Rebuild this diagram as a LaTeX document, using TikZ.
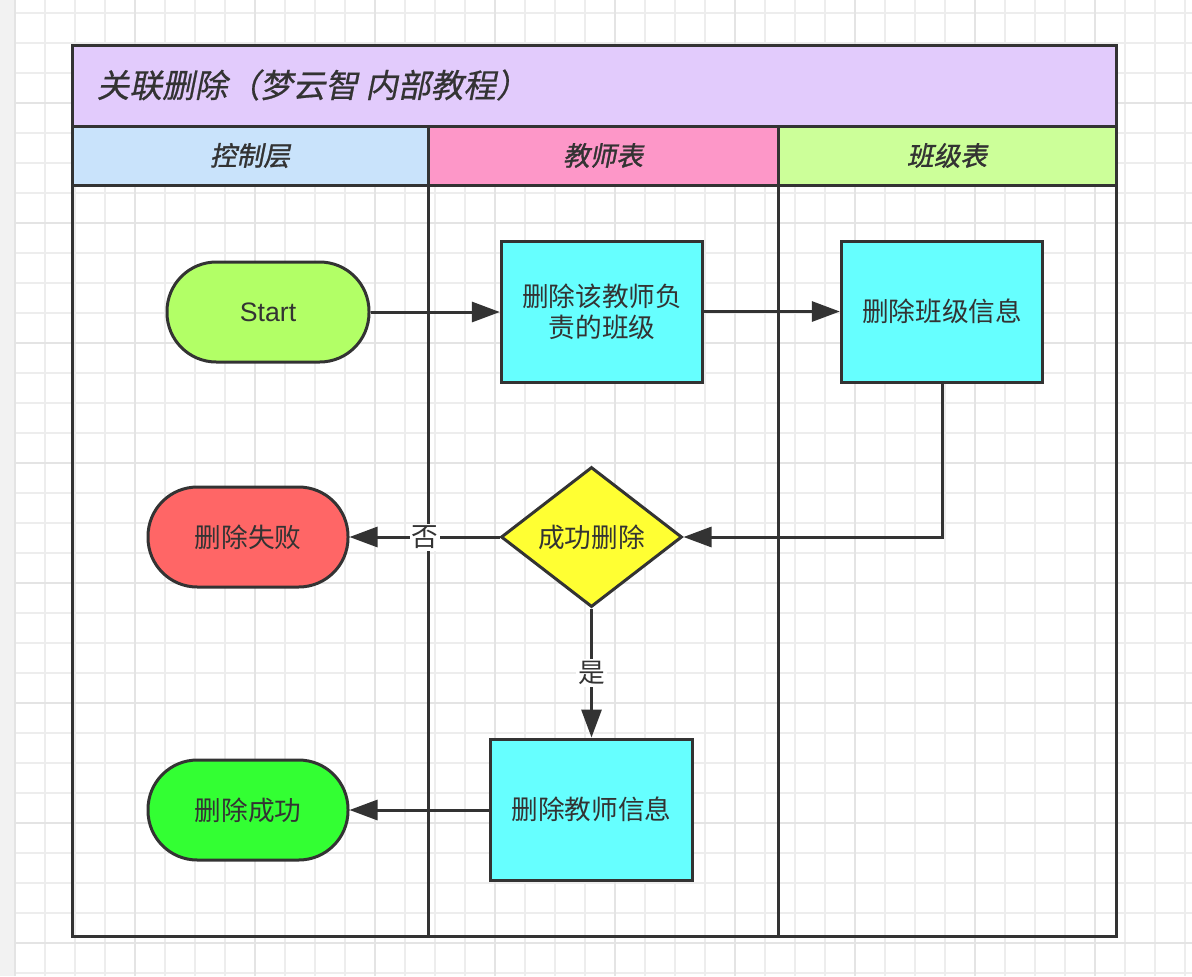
\documentclass[tikz,border=0pt]{standalone}
\usepackage{fontspec}
\setmainfont{Liberation Sans}
\newfontfamily\cjk{Noto Sans CJK SC}
\newfontfamily\cjktitle[FakeSlant=0.2,FakeBold=0.6]{Noto Sans CJK SC}
\newfontfamily\cjkhead[FakeSlant=0.2,FakeBold=1.2]{Noto Sans CJK SC}
\usetikzlibrary{arrows.meta,shapes.geometric}

\definecolor{ink}{HTML}{333333}
\definecolor{gridminor}{HTML}{EDEDED}
\definecolor{gridmajor}{HTML}{E4E4E4}
\definecolor{sidebar}{HTML}{F2F2F2}
\definecolor{titlefill}{HTML}{E2CBFC}
\definecolor{ctrlfill}{HTML}{C9E3FB}
\definecolor{teachfill}{HTML}{FD97C8}
\definecolor{classfill}{HTML}{CCFF99}
\definecolor{startfill}{HTML}{B2FF66}
\definecolor{procfill}{HTML}{66FFFF}
\definecolor{decfill}{HTML}{FFFF33}
\definecolor{failfill}{HTML}{FF6666}
\definecolor{okfill}{HTML}{33FF33}

\tikzset{
  border/.style={draw=ink, line width=2.25pt},
  nodetext/.style={text=ink, font=\cjk\fontsize{20}{22}\selectfont},
  terminal/.style={border, nodetext, rectangle, rounded corners=37pt,
    minimum width=150pt, minimum height=75pt, inner sep=0pt},
  procbox/.style={border, nodetext, rectangle, fill=procfill, align=center,
    minimum width=151pt, minimum height=105.75pt, inner sep=0pt},
  decision/.style={border, nodetext, diamond, fill=decfill, aspect=1.3,
    minimum width=135.75pt, minimum height=105pt, inner sep=0pt},
  flow/.style={draw=ink, line width=2.25pt, -{Triangle[length=21pt,width=15pt]}},
  edgelabel/.style={fill=white, text=ink, inner sep=1.5pt,
    font=\cjk\fontsize{20}{22}\selectfont},
  lanehead/.style={text=ink, font=\cjkhead\fontsize{20}{22}\selectfont},
}

\begin{document}
\begin{tikzpicture}[x=0.75pt, y=-0.75pt]
  \useasboundingbox (0,0) rectangle (1192,976);

  % canvas grid
  \fill[white] (0,0) rectangle (1192,976);
  \fill[sidebar] (0,0) rectangle (15,976);
  \foreach \gx in {45,75,...,1185} \draw[gridminor, line width=1.5pt] (\gx,0) -- (\gx,976);
  \foreach \gy in {13,43,...,973} \draw[gridminor, line width=1.5pt] (15,\gy) -- (1192,\gy);
  \foreach \gx in {135,255,...,1185} \draw[gridmajor, line width=1.5pt] (\gx,0) -- (\gx,976);
  \foreach \gy in {103,223,...,973} \draw[gridmajor, line width=1.5pt] (15,\gy) -- (1192,\gy);
  \draw[gridmajor, line width=1.5pt] (15,0) -- (15,976);

  % pool title and lane headers
  \fill[titlefill] (72,45) rectangle (1116,126);
  \fill[ctrlfill] (72,126) rectangle (428,185);
  \fill[teachfill] (428,126) rectangle (778,185);
  \fill[classfill] (778,126) rectangle (1116,185);

  \node[anchor=west, text=ink, font=\cjktitle\fontsize{24.5}{26}\selectfont] (title) at (92,85) {关联删除（梦云智 内部教程）};
  \node[lanehead] (laneA) at (250,155.5) {控制层};
  \node[lanehead] (laneB) at (603,155.5) {教师表};
  \node[lanehead] (laneC) at (947,155.5) {班级表};

  % pool frame and lane separators
  \draw[border] (72,126) -- (1116,126);
  \draw[border] (72,185) -- (1116,185);
  \draw[border] (428,126) -- (428,936);
  \draw[border] (778,126) -- (778,936);
  \draw[border] (72,45) rectangle (1116,936);

  % flow nodes
  \node[terminal, fill=startfill, minimum width=151.5pt, font=\fontsize{20}{22}\selectfont] (start) at (268,312) {Start};
  \node[procbox] (clearclass) at (602,311.5) {删除该教师负\\[1pt]责的班级};
  \node[procbox] (delclass) at (942,311.5) {删除班级信息};
  \node[decision] (check) at (591.5,537) {成功删除};
  \node[terminal, fill=failfill] (fail) at (248,537) {删除失败};
  \node[procbox] (delteacher) at (591.5,809.5) {删除教师信息};
  \node[terminal, fill=okfill] (done) at (248,810) {删除成功};

  % connectors
  \draw[flow] (start.east) -- (clearclass.west |- start.east);
  \draw[flow] (clearclass.east) -- (delclass.west |- clearclass.east);
  \draw[flow] (delclass.south) |- (check.east);
  \draw[flow] (check.west) -- (fail.east |- check.west);
  \node[edgelabel] (nolbl) at (425,537) {否};
  \draw[flow] (check.south) -- (delteacher.north -| check.south);
  \node[edgelabel] (yeslbl) at (591.5,673) {是};
  \draw[flow] (delteacher.west |- done.east) -- (done.east);
\end{tikzpicture}
\end{document}
